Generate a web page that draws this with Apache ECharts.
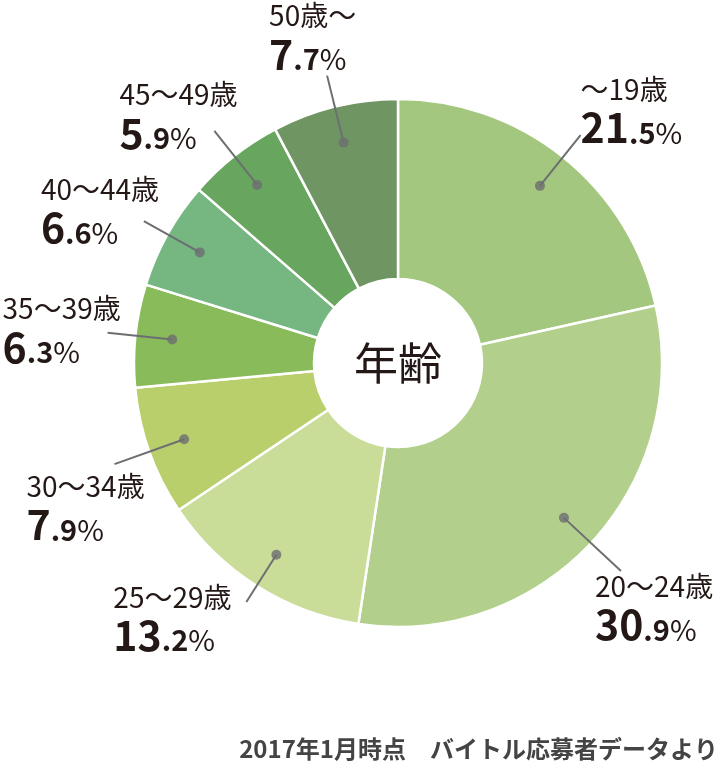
<!DOCTYPE html>
<html><head><meta charset="utf-8">
<script src="https://cdn.jsdelivr.net/npm/echarts@6/dist/echarts.min.js"></script>
<style>html,body{margin:0;padding:0;background:#fff;}#c{width:720px;height:762px;}</style>
</head><body><div id="c"></div>
<script>
const categories = ['～19歳','20～24歳','25～29歳','30～34歳','35～39歳','40～44歳','45～49歳','50歳～'];
const values = [21.5, 30.9, 13.2, 7.9, 6.3, 6.6, 5.9, 7.7];
const centerTitle = '年齢';
const footnote = '2017年1月時点　バイトル応募者データより';

// styling / layout (not data)
const colors = ['#a3c77e','#b2d08c','#c9dc98','#b8cf6b','#8abb5b','#76b681','#68a55e','#6f9563'];
const lineLengths = [65, 78, 56, 74, 65, 64, 69, 69];
const labelOffsets = [[0,-63],[-26,-2],[-133,-22],[-88,5],[-105,-41],[-103,-49],[-95,-53],[-58,-77]];
const CX = 398, CY = 363, R0 = 84, R1 = 264, RD = 227;
const FONT = '"Noto Sans CJK JP", "Noto Sans", sans-serif';
const INK = '#231815', GREY = '#6d6e71';

const total = values.reduce((a, b) => a + b, 0);
const mids = [];
let cum = 0;
values.forEach(v => { mids.push(cum + v / 2); cum += v; });

const chart = echarts.init(document.getElementById('c'), null, {renderer: 'canvas'});
chart.setOption({
  animation: false,
  backgroundColor: '#fff',
  title: {
    text: footnote, right: 2, bottom: 1, padding: 0,
    textStyle: {fontFamily: FONT, fontSize: 24, fontWeight: 'bold', color: '#444444'}
  },
  graphic: [{
    type: 'text', x: CX, y: CY, z: 100,
    style: {text: centerTitle, x: 0, y: 0, align: 'center', verticalAlign: 'middle',
      textAlign: 'center', textVerticalAlign: 'middle',
      fontSize: 44, fontFamily: FONT, fill: INK}
  }],
  polar: {center: [CX, CY], radius: R1},
  angleAxis: {type: 'value', min: 0, max: total, startAngle: 90, clockwise: true, show: false},
  radiusAxis: {type: 'value', min: 0, max: R1, show: false},
  series: [
    {
      type: 'pie', center: [CX, CY], radius: [R0, R1], startAngle: 90, clockwise: true,
      silent: true, z: 2,
      label: {show: false}, labelLine: {show: false},
      itemStyle: {borderColor: '#fff', borderWidth: 2.5},
      data: categories.map((n, i) => ({name: n, value: values[i], itemStyle: {color: colors[i]}}))
    },
    {
      type: 'pie', center: [CX, CY], radius: [0, RD], startAngle: 90, clockwise: true,
      silent: true, z: 3, avoidLabelOverlap: false,
      itemStyle: {color: 'rgba(0,0,0,0)', borderWidth: 0},
      emphasis: {disabled: true},
      label: {
        show: true, position: 'outside', alignTo: 'none',
        formatter: p => {
          const parts = String(p.value).split('.');
          return '{name|' + p.name + '}\n{int|' + parts[0] + '}{dec|.' + (parts[1] || '0') + '}{pct|%}';
        },
        rich: {
          name: {fontFamily: FONT, fontSize: 28, color: INK, lineHeight: 34, verticalAlign: 'middle'},
          int: {fontFamily: FONT, fontSize: 41, fontWeight: 'bold', color: INK, lineHeight: 42, verticalAlign: 'bottom'},
          dec: {fontFamily: FONT, fontSize: 29, fontWeight: 'bold', color: INK, lineHeight: 42, verticalAlign: 'bottom', padding: [0,0,1,0]},
          pct: {fontFamily: FONT, fontSize: 29, color: INK, lineHeight: 42, verticalAlign: 'bottom', padding: [0,0,1,0]}
        }
      },
      labelLine: {show: true, length: 68, length2: 0, smooth: false, lineStyle: {color: GREY, width: 2}},
      labelLayout: function (params) {
        const pts = params.labelLinePoints;
        const end = pts[pts.length - 1];
        const o = labelOffsets[params.dataIndex];
        return {x: end[0] + o[0], y: end[1] + o[1], align: 'left', verticalAlign: 'top', labelLinePoints: pts};
      },
      data: categories.map((n, i) => ({name: n, value: values[i], labelLine: {length: lineLengths[i]}}))
    },
    {
      type: 'scatter', coordinateSystem: 'polar', z: 10, silent: true,
      symbol: 'circle', symbolSize: 10,
      itemStyle: {color: GREY},
      data: mids.map(m => [RD, m])
    }
  ]
});
</script></body></html>
